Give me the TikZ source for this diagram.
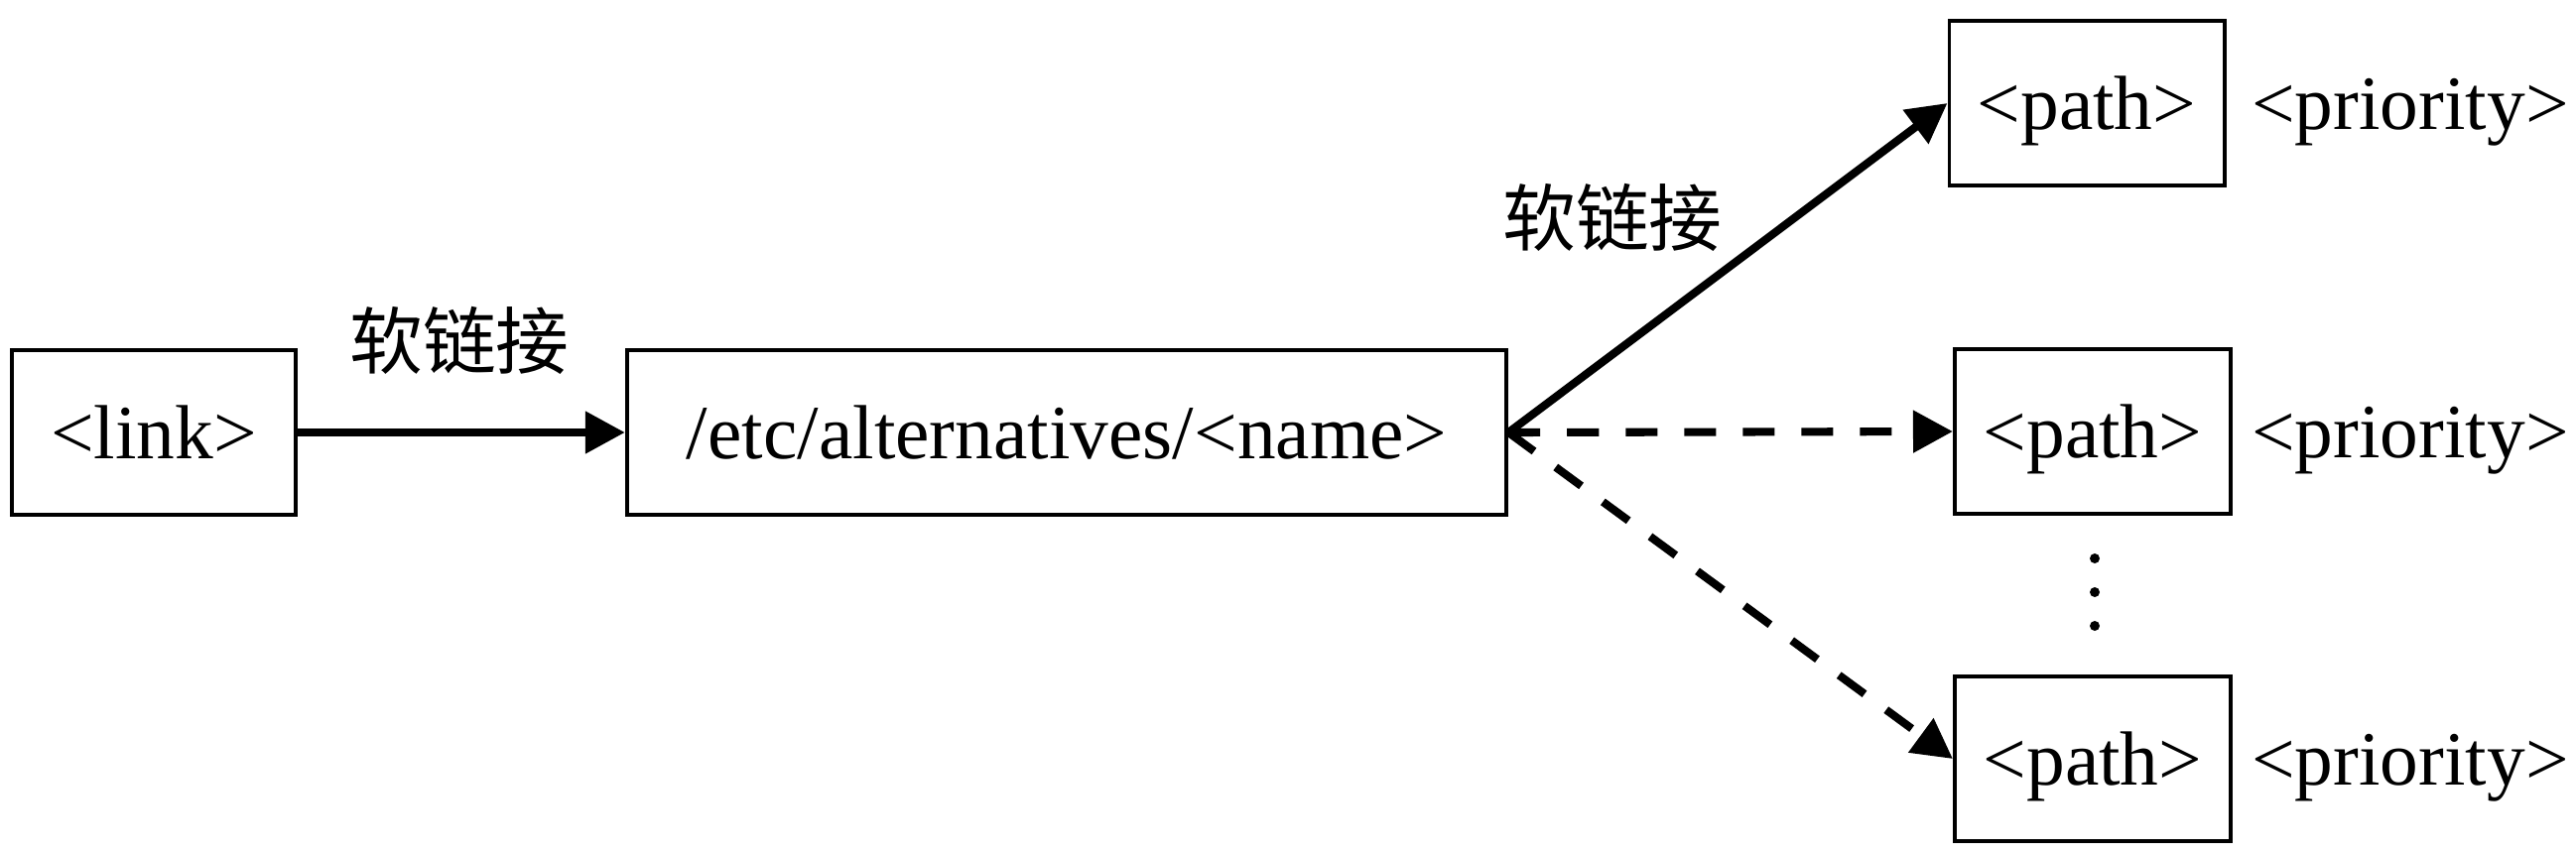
\documentclass[tikz,border=0pt]{standalone}
\usepackage{fontspec}
\setmainfont{Liberation Serif}
\newfontfamily\cjk{Noto Sans CJK SC}
\usetikzlibrary{arrows.meta}

\begin{document}
\begin{tikzpicture}[
    x=0.01cm,
    y=-0.01cm,
    font=\fontsize{22}{26}\selectfont,
    txt/.style={text height=15pt, text depth=0pt},
    box/.style={txt, draw, line width=1.1pt, inner sep=0pt, minimum height=1.66cm},
    link/.style={line width=2.3pt, -{Triangle[length=0.4cm,width=0.41cm]}},
    softlink/.style={link, dash pattern=on 0.32cm off 0.27cm}
  ]
    \useasboundingbox (0,0) rectangle (2596,860);

    % Cajas
    \node[box, minimum width=2.86cm] (lnk) at (155, 436) {<link>};
    \node[box, minimum width=8.86cm] (alt) at (1075, 436) {/etc/alternatives/<name>};
    \node[box, minimum width=2.77cm] (pathA) at (2103, 104) {<path>};
    \node[box, minimum width=2.78cm] (pathB) at (2109, 435) {<path>};
    \node[box, minimum width=2.78cm] (pathC) at (2109, 765) {<path>};

    % Prioridades
    \node[txt] (prioA) at (2429, 104) {<priority>};
    \node[txt] (prioB) at (2429, 435) {<priority>};
    \node[txt] (prioC) at (2429, 765) {<priority>};

    % Puntos
    \fill (2111, 563) circle (5);
    \fill (2111, 597) circle (5);
    \fill (2111, 631) circle (5);

    % Enlaces
    \draw[link] (lnk.east) -- (alt.west);
    \draw[link] (alt.east) -- (pathA.west);
    \draw[softlink] (alt.east) -- (pathB.west);
    \draw[softlink] (alt.east) -- (pathC.west);

    \node[font=\cjk\fontsize{21}{25}\selectfont] (lblA) at (463, 343) {软链接};
    \node[font=\cjk\fontsize{21}{25}\selectfont] (lblB) at (1625, 219) {软链接};
  \end{tikzpicture}
\end{document}
